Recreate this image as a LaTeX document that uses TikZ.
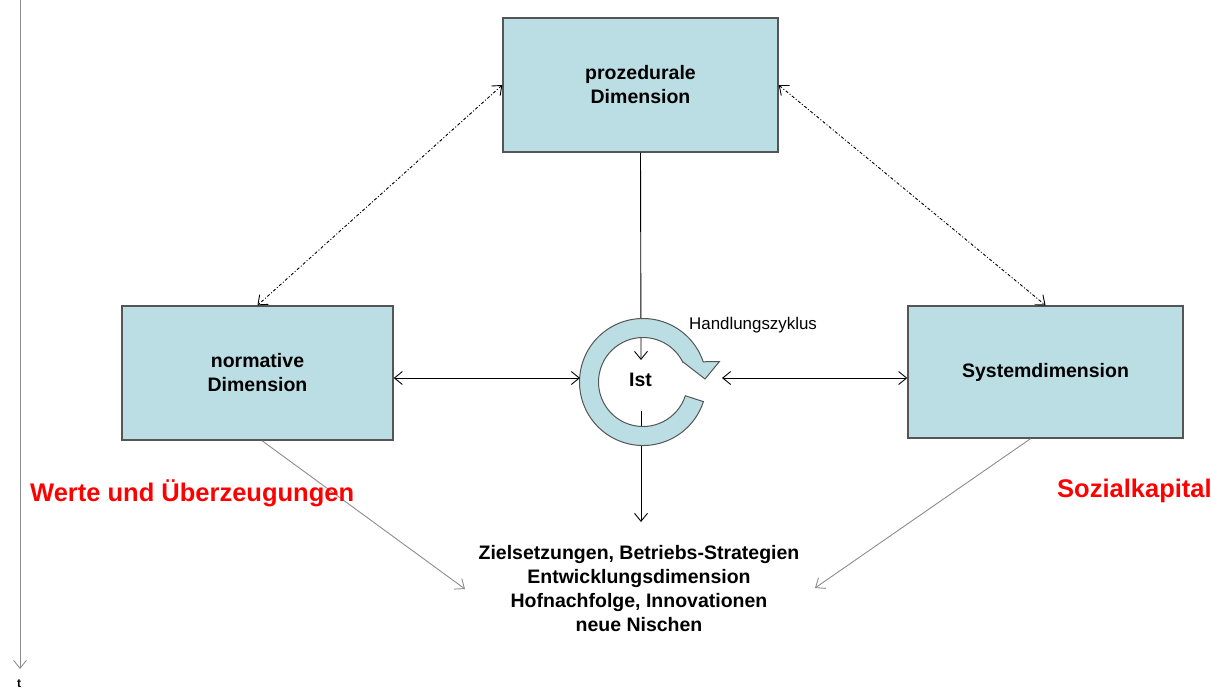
\documentclass[tikz,border=0pt]{standalone}
\usepackage{fontspec}
\setmainfont{Liberation Sans}
\usetikzlibrary{arrows.meta,calc}
\definecolor{boxfill}{RGB}{186,222,227}
\definecolor{boxline}{RGB}{85,85,85}
\definecolor{redtxt}{RGB}{255,0,0}
\definecolor{grayline}{RGB}{140,140,140}
\tikzset{
  dimbox/.style={draw=boxline,line width=1.4pt,fill=boxfill,align=center,
    font=\fontsize{19.5}{24}\selectfont\bfseries,inner sep=0pt},
  conn/.style={draw=black,line width=0.9pt,-{Straight Barb[length=8pt,width=13pt]}},
  dconn/.style={draw=black,line width=0.9pt,{Straight Barb[length=8pt,width=13pt]}-{Straight Barb[length=8pt,width=13pt]}},
  dashconn/.style={dconn,dash pattern=on 3pt off 2pt on 1pt off 2pt},
  grayconn/.style={draw=grayline,line width=0.9pt,-{Straight Barb[length=8pt,width=13pt]}},
  ringstyle/.style={draw=boxline,line width=1pt,fill=boxfill},
  bigred/.style={text=redtxt,font=\fontsize{25.5}{30}\selectfont\bfseries,inner sep=0pt},
}
\begin{document}
\begin{tikzpicture}[x=1pt,y=-1pt]
\useasboundingbox (0,0) rectangle (1212,689);
% boxes
\node[dimbox,minimum width=275pt,minimum height=134pt] (proz) at (640.5,85) {prozedurale\\Dimension};
\node[dimbox,minimum width=271pt,minimum height=134pt] (norm) at (257.5,373) {normative\\Dimension};
\node[dimbox,minimum width=275pt,minimum height=132pt] (sys) at (1045.5,372) {Systemdimension};
% free ends
\coordinate (C) at (643,382);
\coordinate (istTop) at (641,360);
\coordinate (istBot) at (641,411);
\coordinate (zielTop) at (641,522);
\coordinate (ringL) at (580,378);
\coordinate (ringR) at (722,378);
\coordinate (zielL) at (465,589);
\coordinate (zielR) at (815,588);
\coordinate (tTop) at (20,0);
\coordinate (tBot) at (20,669);
% vertical lines through ring (drawn first)
\draw[conn] (proz.south) -- (istTop);
\draw[conn] (istBot) -- (zielTop);
% ring arrow
\path[ringstyle] ($(C)+(18:44.5)$) -- ($(C)+(18:63.5)$)
  arc[start angle=18,end angle=341.4,radius=63.5]
  -- (719.3,361.7) -- (705,379) -- (682.7,361.7)
  -- ($(C)+(333:44.5)$) arc[start angle=333,end angle=18,radius=44.5] -- cycle;
\node[font=\fontsize{19.5}{24}\selectfont\bfseries,inner sep=0pt] (ist) at (640.5,380) {Ist};
\node[font=\fontsize{16.9}{20}\selectfont,anchor=west,inner sep=0pt] (hz) at (689,325) {Handlungszyklus};
% horizontal double arrows
\draw[dconn] ([yshift=-5pt]norm.east) -- (ringL);
\draw[dconn] (ringR) -- ([yshift=-6pt]sys.west);
% dash dotted
\draw[dashconn] (proz.west) -- (norm.north);
\draw[dashconn] (proz.east) -- (sys.north);
% gray arrows
\draw[grayconn] ([xshift=4.5pt]norm.south) -- (zielL);
\draw[grayconn] ([xshift=-15pt]sys.south) -- (zielR);
% bottom text
\node[align=center,font=\fontsize{19.5}{24.3}\selectfont\bfseries,inner sep=0pt] (ziel) at (639,588.5)
  {Zielsetzungen, Betriebs-Strategien\\Entwicklungsdimension\\Hofnachfolge, Innovationen\\neue Nischen};
% side labels
\node[bigred,anchor=west] (werte) at (30,493) {Werte und Überzeugungen};
\node[bigred,anchor=west] (sozial) at (1057,491) {Sozialkapital};
% timeline
\draw[grayconn] (tTop) -- (tBot);
\node[font=\fontsize{12}{14}\selectfont\bfseries,anchor=base,inner sep=0pt] (t) at (19,687.5) {t};
\end{tikzpicture}
\end{document}
